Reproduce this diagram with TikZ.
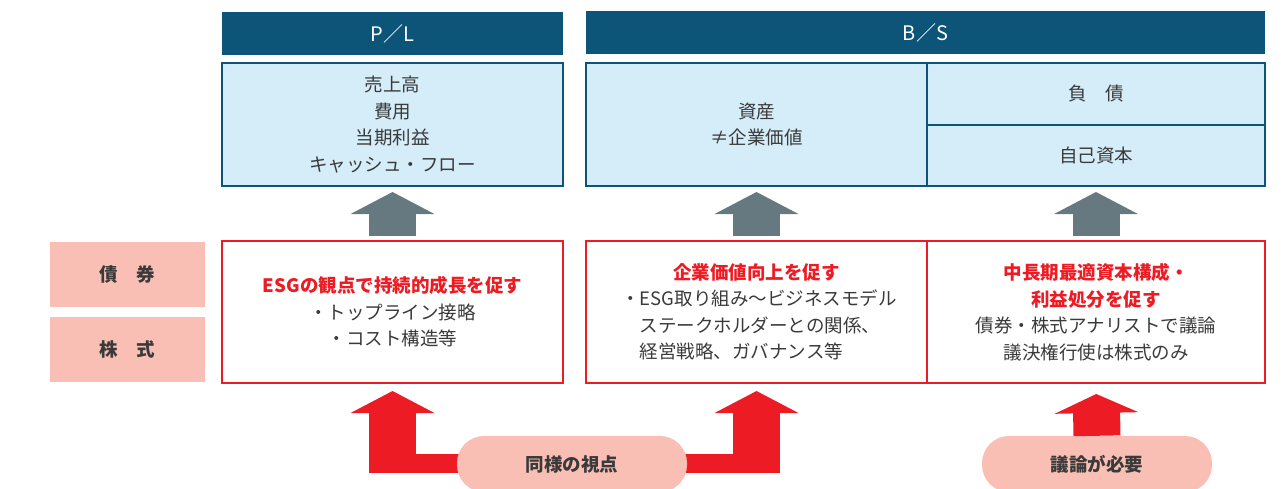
\documentclass[tikz,border=0pt]{standalone}
\usepackage{fontspec}
\setmainfont{Noto Sans CJK JP}
\usetikzlibrary{arrows.meta}
\definecolor{navy}{HTML}{0D5479}
\definecolor{paleblue}{HTML}{D5ECF9}
\definecolor{brightred}{HTML}{ED1C24}
\definecolor{salmon}{HTML}{F9BFB4}
\definecolor{slate}{HTML}{667880}
\definecolor{ink}{HTML}{3A3A3A}
\newcommand\hl[1]{{\color{brightred}\bfseries #1}}
\newcommand\lft[1]{\makebox[14.6em][l]{#1}}

\begin{document}
\begin{tikzpicture}[x=1pt,y=-1pt,
    every node/.style={font=\fontsize{18.5}{26.5}\selectfont,text=ink,align=center,inner sep=0pt},
    header/.style={fill=navy,text=white,minimum height=43pt,font=\fontsize{20}{24}\selectfont},
    sheet/.style={draw=navy,line width=2pt,fill=paleblue,minimum width=341pt,minimum height=123pt},
    redbox/.style={draw=brightred,line width=2pt,minimum width=341pt,minimum height=142pt},
    tag/.style={fill=salmon,minimum width=155pt,minimum height=65pt,font=\fontsize{18.5}{26.5}\selectfont\bfseries},
    pill/.style={fill=salmon,rounded corners=27pt,minimum width=230pt,minimum height=56pt,font=\fontsize{18.5}{26.5}\selectfont\bfseries},
    grayarrow/.style={draw=slate,line width=47pt,-{Triangle[width=83pt,length=22pt]}},
    redarrow/.style={draw=brightred,line width=47pt,-{Triangle[width=83pt,length=22pt]}}]
  \useasboundingbox (0,0) rectangle (1281,489);
  \node[header,minimum width=341pt] (plhead) at (392.5,34) {P／L};
  \node[header,minimum width=679pt] (bshead) at (925.5,32.5) {B／S};
  \node[sheet] (pl) at (392.5,124.5) {売上高\\費用\\当期利益\\キャッシュ・フロー};
  \node[sheet] (asset) at (756.5,124.5) {資産\\≠企業価値};
  \node[sheet,minimum width=338pt,minimum height=62pt] (debt) at (1096,94) {負　債};
  \node[sheet,minimum width=338pt,minimum height=61pt] (equity) at (1096,155.5) {自己資本};
  \node[tag] (bond) at (127.5,274.5) {債　券};
  \node[tag] (stock) at (127.5,349.5) {株　式};
  \node[redbox] (plred) at (392.5,312) {\hl{ESGの観点で持続的成長を促す}\\・トップライン接略\\・コスト構造等};
  \node[redbox] (bsred1) at (756.5,312) {\hl{企業価値向上を促す}\\\lft{・ESG取り組み〜ビジネスモデル}\\\lft{\phantom{・}ステークホルダーとの関係、}\\\lft{\phantom{・}経営戦略、ガバナンス等}};
  \node[redbox,minimum width=338pt] (bsred2) at (1096,312) {\hl{中長期最適資本構成・}\\\hl{利益処分を促す}\\債券・株式アナリストで議論\\議決権行使は株式のみ};
  \foreach \a/\b in {plred/pl,bsred1/asset,bsred2/equity}
    \draw[grayarrow,shorten <=4pt,shorten >=5pt] (\a.north) -- (\b.south);
  \coordinate (band) at (0,463.5);
  \coordinate (base) at (0,473);
  \draw[brightred,line width=19pt] (plred.south |- band) -- (bsred1.south |- band);
  \foreach \b in {plred,bsred1}
    \draw[redarrow,shorten >=7pt] (\b.south |- base) -- (\b.south);
  \node[pill] (same) at (572,464) {同様の視点};
  \node[pill] (need) at (1097,464) {議論が必要};
  \draw[redarrow,-{Triangle[width=83pt,length=19pt]},shorten >=10pt] (need.north) -- (bsred2.south);
\end{tikzpicture}
\end{document}
